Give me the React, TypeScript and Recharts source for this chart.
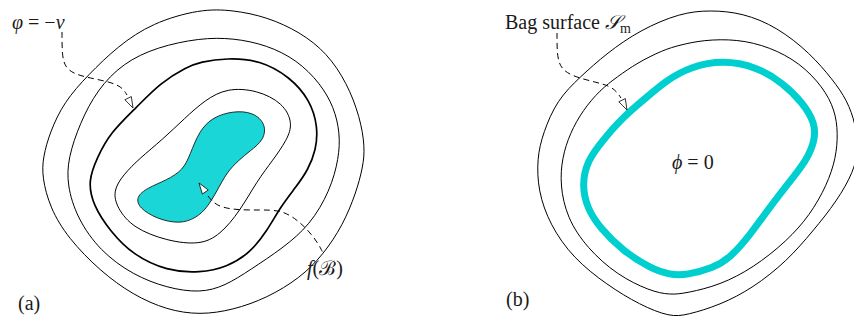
import React from 'react';
import { ComposedChart, Line, Scatter, XAxis, YAxis } from 'recharts';

// diagram coordinates: x to the right, y downward (axis is reversed)
const contourOuterA = [
  { x: 200, y: 9 }, { x: 233, y: 10 }, { x: 267, y: 17 }, { x: 300, y: 32 }, { x: 327, y: 53 },
  { x: 347, y: 83 }, { x: 360, y: 117 }, { x: 365, y: 147 }, { x: 363, y: 167 }, { x: 356, y: 193 },
  { x: 343, y: 225 }, { x: 323, y: 255 }, { x: 300, y: 278 }, { x: 267, y: 298 }, { x: 233, y: 310 },
  { x: 200, y: 315 }, { x: 167, y: 310 }, { x: 133, y: 295 }, { x: 100, y: 271 }, { x: 68, y: 238 },
  { x: 50, y: 208 }, { x: 42, y: 177 }, { x: 43, y: 157 }, { x: 50, y: 132 }, { x: 64, y: 102 },
  { x: 88, y: 75 }, { x: 118, y: 46 }, { x: 152, y: 23 },
];

const contourSecondA = [
  { x: 200, y: 38 }, { x: 233, y: 38 }, { x: 267, y: 45 }, { x: 297, y: 60 }, { x: 320, y: 83 },
  { x: 334, y: 107 }, { x: 340, y: 133 }, { x: 339, y: 158 }, { x: 330, y: 191 }, { x: 310, y: 225 },
  { x: 283, y: 248 }, { x: 250, y: 270 }, { x: 225, y: 286 }, { x: 200, y: 293 }, { x: 167, y: 288 },
  { x: 133, y: 275 }, { x: 100, y: 251 }, { x: 77, y: 218 }, { x: 67, y: 185 }, { x: 68, y: 158 },
  { x: 80, y: 123 }, { x: 97, y: 90 }, { x: 123, y: 63 }, { x: 157, y: 47 },
];

const contourBoldA = [
  { x: 200, y: 62 }, { x: 227, y: 58 }, { x: 260, y: 60 }, { x: 290, y: 77 }, { x: 310, y: 100 },
  { x: 318, y: 127 }, { x: 316, y: 150 }, { x: 308, y: 170 }, { x: 296, y: 187 }, { x: 281, y: 206 },
  { x: 267, y: 231 }, { x: 250, y: 253 }, { x: 227, y: 267 }, { x: 200, y: 273 }, { x: 167, y: 271 },
  { x: 133, y: 255 }, { x: 110, y: 231 }, { x: 93, y: 205 }, { x: 88, y: 181 }, { x: 97, y: 158 },
  { x: 110, y: 133 }, { x: 137, y: 107 }, { x: 160, y: 83 }, { x: 187, y: 67 },
];

const contourInnerA = [
  { x: 205, y: 100 }, { x: 227, y: 88 }, { x: 257, y: 90 }, { x: 283, y: 103 }, { x: 293, y: 123 },
  { x: 287, y: 140 }, { x: 273, y: 160 }, { x: 257, y: 181 }, { x: 240, y: 211 }, { x: 220, y: 235 },
  { x: 200, y: 245 }, { x: 167, y: 241 }, { x: 133, y: 228 }, { x: 117, y: 208 }, { x: 113, y: 191 },
  { x: 123, y: 175 }, { x: 140, y: 158 }, { x: 162, y: 140 }, { x: 185, y: 118 },
];

const bagRegionA = [
  { x: 213, y: 117 }, { x: 233, y: 111 }, { x: 253, y: 112 }, { x: 266, y: 124 }, { x: 264, y: 140 },
  { x: 250, y: 151 }, { x: 239, y: 160 }, { x: 227, y: 172 }, { x: 217, y: 191 }, { x: 207, y: 208 },
  { x: 196, y: 218 }, { x: 180, y: 224 }, { x: 157, y: 219 }, { x: 139, y: 208 }, { x: 136, y: 197 },
  { x: 147, y: 188 }, { x: 167, y: 180 }, { x: 183, y: 170 }, { x: 190, y: 155 }, { x: 199, y: 131 },
];

const contourOuterB = [
  { x: 680, y: 13 }, { x: 710, y: 10 }, { x: 743, y: 13 }, { x: 777, y: 27 }, { x: 810, y: 53 },
  { x: 833, y: 80 }, { x: 847, y: 100 }, { x: 856, y: 125 }, { x: 858, y: 150 }, { x: 854, y: 171 },
  { x: 837, y: 201 }, { x: 813, y: 231 }, { x: 787, y: 261 }, { x: 753, y: 288 }, { x: 720, y: 305 },
  { x: 687, y: 315 }, { x: 670, y: 317 }, { x: 640, y: 305 }, { x: 607, y: 285 }, { x: 573, y: 258 },
  { x: 550, y: 225 }, { x: 538, y: 191 }, { x: 537, y: 158 }, { x: 543, y: 133 }, { x: 557, y: 100 },
  { x: 580, y: 77 }, { x: 607, y: 53 }, { x: 640, y: 30 },
];

const contourInnerB = [
  { x: 680, y: 45 }, { x: 703, y: 40 }, { x: 737, y: 39 }, { x: 770, y: 47 }, { x: 800, y: 63 },
  { x: 823, y: 87 }, { x: 835, y: 110 }, { x: 838, y: 133 }, { x: 836, y: 158 }, { x: 827, y: 185 },
  { x: 810, y: 215 }, { x: 787, y: 241 }, { x: 753, y: 268 }, { x: 720, y: 285 }, { x: 687, y: 293 },
  { x: 670, y: 295 }, { x: 650, y: 291 }, { x: 617, y: 275 }, { x: 587, y: 248 }, { x: 567, y: 218 },
  { x: 560, y: 185 }, { x: 562, y: 158 }, { x: 570, y: 133 }, { x: 583, y: 110 }, { x: 600, y: 90 },
  { x: 617, y: 77 }, { x: 637, y: 63 }, { x: 663, y: 50 },
];

const bagSurfaceB = [
  { x: 690, y: 67 }, { x: 723, y: 60 }, { x: 757, y: 67 }, { x: 783, y: 83 }, { x: 803, y: 103 },
  { x: 815, y: 123 }, { x: 815, y: 140 }, { x: 807, y: 160 }, { x: 787, y: 185 }, { x: 767, y: 211 },
  { x: 750, y: 235 }, { x: 730, y: 258 }, { x: 713, y: 268 }, { x: 687, y: 275 }, { x: 670, y: 275 },
  { x: 650, y: 268 }, { x: 623, y: 251 }, { x: 600, y: 228 }, { x: 587, y: 208 }, { x: 582, y: 185 },
  { x: 587, y: 161 }, { x: 603, y: 140 }, { x: 623, y: 117 }, { x: 647, y: 97 }, { x: 667, y: 80 },
];

const pointerPhi = [
  { x: 62, y: 32 }, { x: 62, y: 55 }, { x: 65, y: 67 }, { x: 74, y: 74 }, { x: 90, y: 78 },
  { x: 110, y: 82 }, { x: 122, y: 87 }, { x: 127, y: 95 },
];

const pointerF = [
  { x: 208, y: 196 }, { x: 216, y: 206 }, { x: 235, y: 210 }, { x: 260, y: 210 }, { x: 280, y: 210 },
  { x: 295, y: 218 }, { x: 308, y: 230 }, { x: 318, y: 243 }, { x: 323, y: 253 },
];

const pointerBag = [
  { x: 557, y: 33 }, { x: 557, y: 58 }, { x: 562, y: 70 }, { x: 575, y: 77 }, { x: 595, y: 82 },
  { x: 610, y: 86 }, { x: 617, y: 92 }, { x: 621, y: 98 },
];

// arrow tips with the direction they point in
const arrowTips = [
  { x: 133, y: 108, dx: 1, dy: 2 },
  { x: 199, y: 183, dx: -0.7, dy: -1 },
  { x: 627, y: 110, dx: 1, dy: 2 },
];

const labels = [
  { x: 12, y: 29, id: 'phi' },
  { x: 307, y: 275, id: 'fB' },
  { x: 18, y: 310, id: 'a' },
  { x: 505, y: 29, id: 'bag' },
  { x: 672, y: 169, id: 'phi0' },
  { x: 506, y: 306, id: 'b' },
];

const FONT = '"Liberation Serif", "DejaVu Serif", serif';

const ArrowHead = (props: any) => {
  const { cx, cy, payload } = props;
  const len = Math.hypot(payload.dx, payload.dy);
  const ux = payload.dx / len;
  const uy = payload.dy / len;
  const L = 11;
  const W = 3.6;
  const bx = cx - ux * L;
  const by = cy - uy * L;
  const pts = `${cx},${cy} ${bx - uy * W},${by + ux * W} ${bx + uy * W},${by - ux * W}`;
  return <polygon points={pts} fill="#fff" stroke="#000" strokeWidth={0.8} />;
};

const LabelText = (props: any) => {
  const { cx, cy, payload } = props;
  const common = { x: cx, y: cy, fontFamily: FONT, fontSize: 20, fill: '#1a1a1a' };
  switch (payload.id) {
    case 'phi':
      return (
        <text {...common}>
          <tspan fontStyle="italic">φ</tspan> = −<tspan fontStyle="italic">v</tspan>
        </text>
      );
    case 'fB':
      return (
        <text {...common}>
          <tspan fontStyle="italic">f</tspan>(ℬ)
        </text>
      );
    case 'bag':
      return (
        <text {...common}>
          Bag surface <tspan fontStyle="italic">𝒮</tspan>
          <tspan fontSize={14} dy={4}>m</tspan>
        </text>
      );
    case 'phi0':
      return (
        <text {...common}>
          <tspan fontStyle="italic">ϕ</tspan> = 0
        </text>
      );
    case 'a':
      return <text {...common}>(a)</text>;
    case 'b':
      return <text {...common}>(b)</text>;
    default:
      return null;
  }
};

export default function App() {
  const thin = { stroke: '#000', strokeWidth: 1, dot: false, isAnimationActive: false, dataKey: 'y' } as const;
  return (
    <div style={{ position: 'absolute', left: 0, top: 0, background: '#fff' }}>
      <style>{`.bag-fill .recharts-line-curve { fill: #1bd6d6; }`}</style>
      <ComposedChart width={854} height={318} margin={{ top: 0, right: 0, bottom: 0, left: 0 }}>
        <XAxis type="number" dataKey="x" domain={[0, 854]} allowDataOverflow hide />
        <YAxis type="number" dataKey="y" domain={[0, 318]} reversed allowDataOverflow hide />

        <Line {...thin} className="bag-fill" data={bagRegionA} type="basisClosed" strokeWidth={0.8} />
        <Line {...thin} data={contourOuterA} type="basisClosed" />
        <Line {...thin} data={contourSecondA} type="basisClosed" />
        <Line {...thin} data={contourBoldA} type="basisClosed" strokeWidth={1.7} />
        <Line {...thin} data={contourInnerA} type="basisClosed" />

        <Line {...thin} data={contourOuterB} type="basisClosed" />
        <Line {...thin} data={contourInnerB} type="basisClosed" />
        <Line {...thin} data={bagSurfaceB} type="basisClosed" stroke="#00cfcf" strokeWidth={7} />

        <Line {...thin} data={pointerPhi} type="basis" strokeDasharray="6 4" />
        <Line {...thin} data={pointerF} type="basis" strokeDasharray="6 4" />
        <Line {...thin} data={pointerBag} type="basis" strokeDasharray="6 4" />

        <Scatter data={arrowTips} dataKey="y" shape={ArrowHead} isAnimationActive={false} />
        <Scatter data={labels} dataKey="y" shape={LabelText} isAnimationActive={false} />
      </ComposedChart>
    </div>
  );
}
